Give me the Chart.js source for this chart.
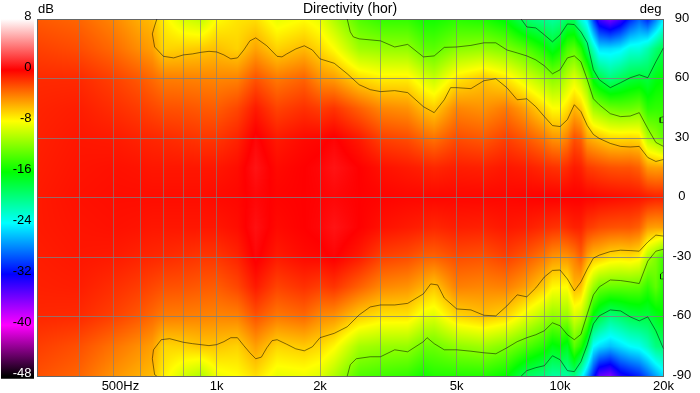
<!DOCTYPE html>
<html>
<head>
<meta charset="utf-8">
<style>html,body{margin:0;padding:0;background:#fff}canvas{display:block}</style>
<script src="https://cdn.jsdelivr.net/npm/chart.js@4"></script>
</head>
<body>
<canvas id="c" width="700" height="393"></canvas>
<script>
const angleRows = [90,75,60,45,30,15,0,-15,-30,-45,-60,-75,-90];
const heatFreqs = [300,400,500,600,650,700,800,900,1000,1150,1300,1500,1800,2000,2200,2600,3000,3600,4000,4300,5000,6000,7000,8000,9000,9500,10000,10500,11000,11500,12000,12500,13000,14000,15000,16000,17000,18000,19000,20000];
const heatLevels = [
[-2.8,-2.0,-1.3,-1.1,-1.0,-0.9,-0.8,-0.8,-0.9,-1.0,-1.2,-1.9,-2.5],
[-3.2,-2.4,-1.3,-0.9,-0.7,-0.6,-0.5,-0.6,-0.7,-0.9,-1.3,-2.5,-3.2],
[-4.2,-3.3,-2.0,-1.4,-0.8,-0.5,-0.4,-0.5,-0.8,-1.4,-2.0,-3.6,-4.6],
[-5.5,-4.5,-2.8,-1.9,-1.1,-0.6,-0.4,-0.6,-1.1,-1.9,-2.8,-4.5,-5.5],
[-5.9,-5,-3.3,-2.2,-1.2,-0.7,-0.4,-0.7,-1.2,-2.2,-3.3,-5,-5.9],
[-7.5,-6.7,-3.9,-2.5,-1.3,-0.7,-0.4,-0.7,-1.3,-2.5,-3.9,-6.7,-7.5],
[-9.3,-6.5,-4,-2.6,-1.5,-0.7,-0.4,-0.7,-1.5,-2.6,-4,-6.6,-9.4],
[-10,-6.3,-4.1,-2.8,-1.7,-0.7,-0.4,-0.7,-1.7,-2.8,-4.1,-6.2,-10.5],
[-8,-6,-4.2,-2.9,-1.7,-0.7,-0.3,-0.7,-1.7,-2.9,-4.2,-6.2,-8.5],
[-7.2,-6.6,-4.1,-2.2,-1.1,-0.4,-0.2,-0.4,-1.1,-2.2,-4.1,-6.6,-8],
[-7,-5.1,-2.6,-0.8,0.2,0.6,0.2,0.5,0.2,-0.8,-2.6,-5,-7],
[-8.7,-6.6,-3.8,-2.1,-0.8,-0.3,-0.1,-0.3,-0.8,-2.1,-3.8,-6.7,-8.7],
[-8,-5.8,-3.1,-1.5,-0.3,0,0,0,-0.3,-1.5,-3.3,-6.3,-8.5],
[-8.7,-6.8,-4.5,-1.9,-0.2,0.2,0.1,0.2,-0.2,-1.9,-4.3,-6.8,-9],
[-10.5,-8,-4.9,-1.6,0.1,0.6,0.2,0.6,0.1,-1.6,-4.6,-7.8,-10.5],
[-13.5,-11,-6.8,-3,-0.8,0,0,0,-0.8,-3,-6.4,-10.8,-13.5],
[-14.5,-11.3,-7.5,-4.2,-2.0,-0.5,-0.1,-0.5,-2.0,-4.2,-7.2,-11.2,-14],
[-14.5,-11.4,-7.5,-4.6,-2.4,-0.8,-0.2,-0.8,-2.4,-4.6,-7.2,-11.3,-14.5],
[-15.5,-13,-9,-5.9,-3.2,-1,-0.2,-1,-3,-5.5,-8.7,-12.6,-15.5],
[-15.5,-13.2,-9.8,-6.4,-3.6,-1.2,-0.2,-1.2,-3.1,-6.2,-9,-12.6,-15],
[-14.8,-11.7,-7.3,-4.2,-2.4,-0.9,-0.2,-0.9,-2.4,-4,-6.8,-11.5,-15],
[-15.2,-11.3,-6.2,-4.6,-2.8,-1,-0.2,-1,-2.6,-4.2,-6.1,-11,-15],
[-16.5,-12.1,-7.3,-3.8,-2,-0.7,-0.2,-0.7,-2,-4,-6.8,-12,-16],
[-19.5,-13.5,-9.2,-5.2,-2.8,-0.9,-0.1,-0.9,-2.8,-5,-8.8,-13.5,-19],
[-20.5,-15.5,-10.8,-7,-3.8,-1.3,0,-1.3,-3.8,-6.5,-10.5,-15,-20],
[-21,-17,-11.7,-8,-4.6,-1.5,0,-1.5,-4.6,-7.8,-11.5,-16.5,-21],
[-20.5,-15.8,-11.3,-8,-4.8,-1.6,0,-1.6,-4.8,-7.9,-11.2,-16,-21],
[-18.8,-13.8,-10,-7,-4,-1.3,0,-1.3,-4.6,-8,-11.3,-17,-21],
[-19,-13.2,-9,-5.7,-2.5,-0.8,0,-1,-4,-5.7,-9.2,-13.2,-20],
[-23,-15,-10.2,-6.4,-3,-1,0,-1,-3,-6,-9.9,-15,-23],
[-25,-18.8,-12.1,-8.5,-5.2,-1.8,-0.1,-1.8,-5,-8.8,-12.2,-18.5,-27],
[-30,-22,-16.5,-11,-5.7,-2,-0.1,-2,-6,-11,-16.5,-24,-31],
[-34,-25,-18.1,-11.6,-6.1,-2.2,-0.2,-2.3,-6.2,-12.5,-18,-25,-35],
[-36,-25,-19.8,-12.6,-6.8,-2.5,-0.3,-2.5,-7,-12.8,-20,-26,-36],
[-34,-24.5,-18.8,-12.9,-6.9,-2.6,-0.4,-2.6,-7.2,-12.9,-19.3,-25,-33],
[-31,-23,-17.9,-12.8,-6.8,-2.6,-0.5,-2.6,-7,-12.9,-18.4,-24,-32],
[-29,-23,-17.5,-12.4,-7,-3,-0.6,-3,-7.5,-13,-18,-23.5,-31],
[-31,-21.5,-17.9,-14.8,-10.5,-4.8,-0.8,-4.8,-10.5,-14.5,-18,-22,-29],
[-28,-19.6,-16.5,-14.5,-11.5,-5,-1,-5,-12,-13,-17,-20,-27],
[-24.5,-18.2,-16,-14.5,-13,-4.9,-1,-4.9,-14,-15,-16,-19.5,-25]
];

const upperA_f = [670,660,650,660,700,750,800,850,900,950,1000,1050,1100,1150,1200,1250,1300,1400,1500,1550,1600,1700,1800,1900,2000,2200,2400,2600,2800,3000,3300,3600,4000,4300,4600,4800,5000,5500,6000,6500,7000,7500,8000,8500,9000,9500,10000,10500,11000,11500,12000,12500,13000,14000,15000,16000,17000,18000,19000,20000];
const upperA_a = [90,86.5,82.5,75.9,71.2,70.4,71.9,72.4,73.2,73.7,73.4,71.9,69.9,70.4,74.4,79,80.5,76.5,71.2,70.9,72.4,74.9,76.5,74.4,69.9,67.7,62.4,56.9,54.4,53.4,53.9,52.9,45.8,42.8,49.3,55.4,55.4,54.9,58.9,59.9,55.4,49.3,49.8,45.8,40.8,36.3,35.8,39.3,46.8,43.3,36.3,31.8,29.8,27.3,25.8,25.5,25.8,20.2,18.2,19.2];
const lowerA_f = [670,660,650,655,690,730,800,850,900,950,1000,1050,1100,1150,1200,1250,1300,1350,1400,1450,1500,1600,1700,1800,1900,2000,2200,2400,2600,2800,3000,3300,3600,4000,4200,4400,4600,5000,5500,6000,6500,7000,7500,8000,8500,9000,9500,10000,10500,11000,11500,12000,12500,13000,14000,15000,16000,17000,18000,19000,20000];
const lowerA_a = [-90,-89.2,-81.2,-76.7,-71.6,-71.1,-72.9,-73.6,-74.1,-74.6,-74.1,-72.6,-70.6,-70.6,-74.6,-78.2,-81.2,-80.4,-75.7,-72.1,-71.6,-73.9,-76.2,-77.2,-75.2,-70.6,-68.4,-65.1,-59.1,-55.1,-54.1,-54.1,-53.3,-48.5,-43.5,-44,-50.6,-56.1,-56.6,-59.3,-59.6,-54.6,-49,-50,-45.5,-40,-36.7,-36.5,-41,-47,-42.5,-36,-30.5,-29,-27.2,-26.5,-26.7,-27,-22.4,-18.9,-19.4];
const upperB_f = [2400,2450,2500,2600,3000,3300,3600,4000,4300,4600,5000,5500,6000,6500,7000,7500,8000,8500,9000,9500,10000,10500,11000,11500,12000,12500,13000,14000,15000,16000,17000,18000,19000,20000];
const upperB_a = [90,83.5,81,80,79,75.9,77.2,70.9,71.4,75.7,75.9,76.7,78,78,74.4,72.9,71.4,69.4,66.4,62.4,64.4,70.4,71.4,68.4,59.4,49.8,46.8,42.3,40.8,41.1,42.8,34.8,27.8,25.8];
const lowerB_f = [2400,2450,2550,2800,3000,3300,3600,4000,4100,4300,4600,5000,5500,6000,6500,7000,7500,8000,8500,9000,9500,10000,10500,11000,11500,12000,12500,13000,14000,15000,16000,17000,18000,19000,20000];
const lowerB_a = [-90,-84.2,-81.2,-80.2,-80.2,-76.7,-77.7,-72.6,-70.6,-73.6,-76.7,-76.7,-77.4,-78.2,-78.7,-75.7,-72.6,-70.6,-69.1,-67.1,-63.1,-64.6,-69.1,-71.6,-68.9,-58.6,-49,-45,-41.5,-41.8,-42.5,-43.3,-32,-27,-26];
const upperC_f = [7700,8000,8500,9000,9500,10000,10500,11000,11500,12000,12500,13000,14000,15000,16000,17000,18000,19000,20000];
const upperC_a = [90,86,85.5,82,78.5,82,87.5,87.2,83.5,78,64.4,59.4,55.4,57.9,60.4,61.9,60.4,68.4,75.5];
const lowerC_f = [7700,8000,8500,9000,9500,10000,10500,11000,11500,12000,12500,13000,14000,15000,16000,17000,18000,19000,20000];
const lowerC_a = [-90,-87.2,-85.7,-84.7,-79.7,-81.7,-87.2,-87.7,-82.7,-74.1,-63.6,-59.6,-56.6,-57.1,-60.1,-62.1,-60.1,-67.1,-76.2];
const islandU_f = [20000,19550,19550,20000];
const islandU_a = [40.8,40.3,37.8,37.8];
const islandL_f = [20000,19600,19600,20000];
const islandL_a = [-37.5,-38.5,-41,-41];

const freqTicks = [300,400,500,600,700,800,900,1000,2000,3000,4000,5000,6000,7000,8000,9000,10000,20000];
const freqLabels = {500:'\u00a0\u00a0\u00a0\u00a0500Hz',1000:'1k',2000:'2k',5000:'5k',10000:'10k',20000:'20k'};
const dbTicks = [8,0,-8,-16,-24,-32,-40,-48];
const dbColors = [[255,255,255],[255,0,0],[255,255,0],[0,255,0],[0,255,255],[0,0,255],[255,0,255],[0,0,0]];
const FONT = 'Liberation Sans';

function colorOf(v){
  if(v>=dbTicks[0]) return dbColors[0];
  if(v<=dbTicks[7]) return dbColors[7];
  let i=0; while(v<dbTicks[i+1]) i++;
  const t=(dbTicks[i]-v)/(dbTicks[i]-dbTicks[i+1]);
  const a=dbColors[i],b=dbColors[i+1];
  return [a[0]+(b[0]-a[0])*t,a[1]+(b[1]-a[1])*t,a[2]+(b[2]-a[2])*t];
}
function contour(f,a,label){
  return {label,data:f.map((x,i)=>({x,y:a[i]})),showLine:true,pointRadius:0,borderWidth:1,
          borderColor:'rgba(0,0,0,0.5)',tension:0,xAxisID:'x',yAxisID:'y'};
}
const heatmap = {
  id:'heatmap',
  beforeDraw(chart){
    const {ctx,chartArea:ca,scales}=chart, sx=scales.x, sy=scales.y, sd=scales.db;
    ctx.save();
    ctx.fillStyle='#fff';ctx.fillRect(0,0,700,393);
    const L=Math.round(ca.left),T=Math.round(ca.top),W=Math.round(ca.right)-L,H=Math.round(ca.bottom)-T;
    const img=ctx.createImageData(W,H);
    const cols=heatFreqs.map(f=>sx.getPixelForValue(f));
    const rows=angleRows.map(a=>sy.getPixelForValue(a));
    const seg=(arr,p)=>{let i=0;while(i<arr.length-2&&p>arr[i+1])i++;return [i,Math.min(1,Math.max(0,(p-arr[i])/(arr[i+1]-arr[i])))];};
    for(let py=0;py<H;py++){
      const [r,tr]=seg(rows,T+py+0.5);
      for(let px=0;px<W;px++){
        const [c,tc]=seg(cols,L+px+0.5);
        const v=(heatLevels[c][r]*(1-tc)+heatLevels[c+1][r]*tc)*(1-tr)+(heatLevels[c][r+1]*(1-tc)+heatLevels[c+1][r+1]*tc)*tr;
        const k=colorOf(v),o=(py*W+px)*4;
        img.data[o]=k[0];img.data[o+1]=k[1];img.data[o+2]=k[2];img.data[o+3]=255;
      }
    }
    ctx.putImageData(img,L,T);
    const y0=sd.getPixelForValue(8.1),y1=sd.getPixelForValue(-48.4);
    const g=ctx.createLinearGradient(0,sd.getPixelForValue(8),0,sd.getPixelForValue(-48));
    dbTicks.forEach((v,i)=>g.addColorStop((8-v)/56,'rgb('+dbColors[i].join(',')+')'));
    ctx.fillStyle=g;ctx.fillRect(1,y0,33,y1-y0);
    ctx.restore();
  },
  afterDraw(chart){
    const {ctx}=chart;
    ctx.save();
    ctx.fillStyle='#000';ctx.font='13px "'+FONT+'"';ctx.textBaseline='middle';
    ctx.textAlign='left';ctx.fillText('dB',38,9.5);
    ctx.textAlign='right';ctx.fillText('deg',661.5,9.5);
    ctx.restore();
  }
};
new Chart(document.getElementById('c'),{
  type:'scatter',
  data:{datasets:[
    contour(upperA_f,upperA_a,'-6 dB upper'),contour(lowerA_f,lowerA_a,'-6 dB lower'),
    contour(upperB_f,upperB_a,'-12 dB upper'),contour(lowerB_f,lowerB_a,'-12 dB lower'),
    contour(upperC_f,upperC_a,'-18 dB upper'),contour(lowerC_f,lowerC_a,'-18 dB lower'),
    contour(islandU_f,islandU_a,'-12 dB island upper'),contour(islandL_f,islandL_a,'-12 dB island lower')
  ]},
  plugins:[heatmap],
  options:{
    responsive:false,animation:false,devicePixelRatio:1,
    layout:{padding:0},
    plugins:{legend:{display:false},tooltip:{enabled:false},
      title:{display:true,text:'Directivity (hor)',color:'#000',align:'center',
        font:{family:FONT,size:14,weight:'normal',lineHeight:1.2},padding:{top:1,bottom:1.2}}},
    scales:{
      x:{type:'logarithmic',min:300,max:20000,position:'bottom',
        afterBuildTicks(a){a.ticks=freqTicks.map(value=>({value}));},
        afterFit(a){a.height=15;},
        grid:{color:c=>(c.tick&&(c.tick.value===300||c.tick.value===20000))?'#666':'rgba(128,128,128,0.65)',drawTicks:false,lineWidth:1},
        border:{display:false},
        ticks:{autoSkip:false,maxRotation:0,minRotation:0,padding:2,color:'#000',font:{family:FONT,size:13},
          callback:v=>freqLabels[v]||''}},
      y:{type:'linear',min:-90,max:90,position:'right',
        afterFit(a){a.width=36.5;},
        grid:{color:c=>(c.tick&&Math.abs(c.tick.value)===90)?'#666':'rgba(128,128,128,0.8)',drawTicks:false},
        border:{color:'#666'},
        ticks:{stepSize:30,padding:9,crossAlign:'center',labelOffset:-1,color:'#000',font:{family:FONT,size:13}}},
      db:{type:'linear',min:-48,max:8,position:'left',
        afterBuildTicks(a){a.ticks=dbTicks.map(value=>({value}));},
        afterFit(a){a.width=37;},
        grid:{display:false,drawTicks:false},
        border:{color:'#666'},
        ticks:{padding:5.5,labelOffset:-2.5,color:c=>c.tick.value===-48?'#fff':'#000',font:{family:FONT,size:13}}}
    }
  }
});
</script>
</body>
</html>
